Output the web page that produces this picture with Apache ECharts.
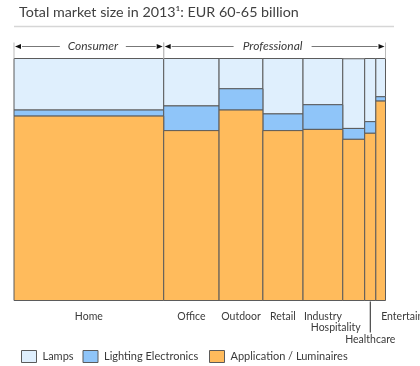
<!DOCTYPE html>
<html><head><meta charset="utf-8">
<script src="https://cdn.jsdelivr.net/npm/echarts@6/dist/echarts.min.js"></script>
<style>html,body{margin:0;padding:0;background:#fff}#c{width:420px;height:366px}</style>
</head><body><div id="c"></div>
<script>
const categories = ['Home','Office','Outdoor','Retail','Industry','Hospitality','Healthcare','Entertainment'];
const widths = [40.3,14.9,11.8,10.8,10.7,5.9,3.0,2.6];
const luminaires = [76.2,70.2,78.7,70.2,70.7,66.6,69.1,82.4];
const electronics = [2.5,10.2,8.8,6.9,10.2,4.5,4.8,1.8];
const lamps = [21.3,19.6,12.5,22.9,19.1,28.8,26.1,15.8];
const groups = ['Consumer','Professional'];
const groupSpans = [[0,0],[1,7]];
const seriesNames = ['Lamps','Lighting Electronics','Application / Luminaires'];
const colors = ['#DFEFFD','#8FC5F9','#FFBB5C'];

const starts = [];
let acc = 0;
widths.forEach(w => { starts.push(acc); acc += w; });
const total = acc;

function segData(vals, below) {
  return vals.map((v, i) => [starts[i], starts[i] + widths[i], below[i], below[i] + v]);
}
const lumData = segData(luminaires, luminaires.map(() => 0));
const eleData = segData(electronics, luminaires);
const lampData = segData(lamps, luminaires.map((v, i) => v + electronics[i]));

function rectItem(params, api) {
  const p0 = api.coord([api.value(0), api.value(3)]);
  const p1 = api.coord([api.value(1), api.value(2)]);
  return {
    type: 'rect',
    shape: { x: p0[0], y: p0[1], width: p1[0] - p0[0], height: p1[1] - p0[1] },
    style: { fill: api.visual('color'), stroke: '#5b5b5b', lineWidth: 1 }
  };
}

const FONT = 'Lato';
const labelData = categories.map((c, i) => [starts[i] + widths[i] / 2, 0, c]);
function labelItem(params, api) {
  const i = params.dataIndex;
  const p = api.coord([api.value(0), 0]);
  const name = categories[i];
  const font = '10.5px "' + FONT + '", sans-serif';
  if (name === 'Hospitality') {
    return { type: 'text', x: p[0] - 18, y: p[1] + 27.5, style: { text: name, font: font, fill: '#3a3a3a', align: 'center', verticalAlign: 'middle' } };
  }
  if (name === 'Healthcare') {
    return { type: 'group', children: [
      { type: 'line', shape: { x1: p[0], y1: p[1] + 1, x2: p[0], y2: p[1] + 32 }, style: { stroke: '#222', lineWidth: 1 } },
      { type: 'text', x: p[0], y: p[1] + 39, style: { text: name, font: font, fill: '#3a3a3a', align: 'center', verticalAlign: 'middle' } }
    ] };
  }
  if (name === 'Entertainment') {
    return { type: 'text', x: p[0] + 0.5, y: p[1] + 16, style: { text: name, font: font, fill: '#3a3a3a', align: 'left', verticalAlign: 'middle' } };
  }
  return { type: 'text', x: p[0], y: p[1] + 16, style: { text: name, font: font, fill: '#3a3a3a', align: 'center', verticalAlign: 'middle' } };
}

const groupData = groupSpans.map((s, i) => [starts[s[0]], starts[s[1]] + widths[s[1]], groups[i]]);
function groupItem(params, api) {
  const i = params.dataIndex;
  const a = api.coord([api.value(0), 100]);
  const b = api.coord([api.value(1), 100]);
  const y = a[1] - 12;
  const name = groups[i];
  const mid = (a[0] + b[0]) / 2 + (i === 0 ? 4 : -2);
  const half = i === 0 ? 25 : 31;
  const ah = 6;
  return { type: 'group', children: [
    { type: 'line', shape: { x1: a[0], y1: a[1] - 16, x2: a[0], y2: a[1] }, style: { stroke: '#bbb', lineWidth: 1 } },
    { type: 'line', shape: { x1: b[0], y1: a[1] - 16, x2: b[0], y2: a[1] }, style: { stroke: '#bbb', lineWidth: 1 } },
    { type: 'line', shape: { x1: a[0] + 2 + ah, y1: y, x2: mid - half - 8, y2: y }, style: { stroke: '#777', lineWidth: 1 } },
    { type: 'line', shape: { x1: mid + half + 8, y1: y, x2: b[0] - 2 - ah, y2: y }, style: { stroke: '#777', lineWidth: 1 } },
    { type: 'polygon', shape: { points: [[a[0] + 1, y], [a[0] + 1 + ah, y - 2.5], [a[0] + 1 + ah, y + 2.5]] }, style: { fill: '#111' } },
    { type: 'polygon', shape: { points: [[b[0] - 1, y], [b[0] - 1 - ah, y - 2.5], [b[0] - 1 - ah, y + 2.5]] }, style: { fill: '#111' } },
    { type: 'text', x: mid, y: y, style: { text: name, font: 'italic 12px "' + FONT + '", sans-serif', fill: '#3a3a3a', align: 'center', verticalAlign: 'middle' } }
  ] };
}

const legendLefts = [21, 82.5, 209];
const legendBase = {
  top: 350, padding: 0, itemWidth: 15, itemHeight: 12, itemGap: 0,
  textStyle: { fontFamily: FONT, fontSize: 11, color: '#3a3a3a', padding: [0, 0, 0, 1] },
  itemStyle: { borderColor: '#5b5b5b', borderWidth: 1 }, icon: 'rect'
};

const chart = echarts.init(document.getElementById('c'), null, { renderer: 'canvas' });
chart.setOption({
  animation: false,
  backgroundColor: '#fff',
  title: {
    text: 'Total market size in 2013¹: EUR 60-65 billion',
    left: 19, top: 5, padding: 0,
    textStyle: { fontFamily: FONT, fontSize: 14.3, fontWeight: 'normal', color: '#404040' }
  },
  graphic: [{ type: 'line', shape: { x1: 14, y1: 26.5, x2: 394, y2: 26.5 }, style: { stroke: '#d6d6d6', lineWidth: 1.5 } }],
  legend: seriesNames.map((n, i) => Object.assign({}, legendBase, { data: [n], left: legendLefts[i] })),
  grid: { left: 14, right: 34.5, top: 58.5, bottom: 65.5 },
  xAxis: { type: 'value', min: 0, max: total, show: false },
  yAxis: { type: 'value', min: 0, max: 100, show: false },
  series: [
    { name: 'Lamps', type: 'custom', renderItem: rectItem, data: lampData, itemStyle: { color: colors[0] }, encode: { x: [0, 1], y: [2, 3] }, z: 2 },
    { name: 'Lighting Electronics', type: 'custom', renderItem: rectItem, data: eleData, itemStyle: { color: colors[1] }, encode: { x: [0, 1], y: [2, 3] }, z: 2 },
    { name: 'Application / Luminaires', type: 'custom', renderItem: rectItem, data: lumData, itemStyle: { color: colors[2] }, encode: { x: [0, 1], y: [2, 3] }, z: 2 },
    { name: 'labels', type: 'custom', renderItem: labelItem, data: labelData, silent: true, z: 3 },
    { name: 'groups', type: 'custom', renderItem: groupItem, data: groupData, silent: true, z: 3 }
  ]
});
</script></body></html>
